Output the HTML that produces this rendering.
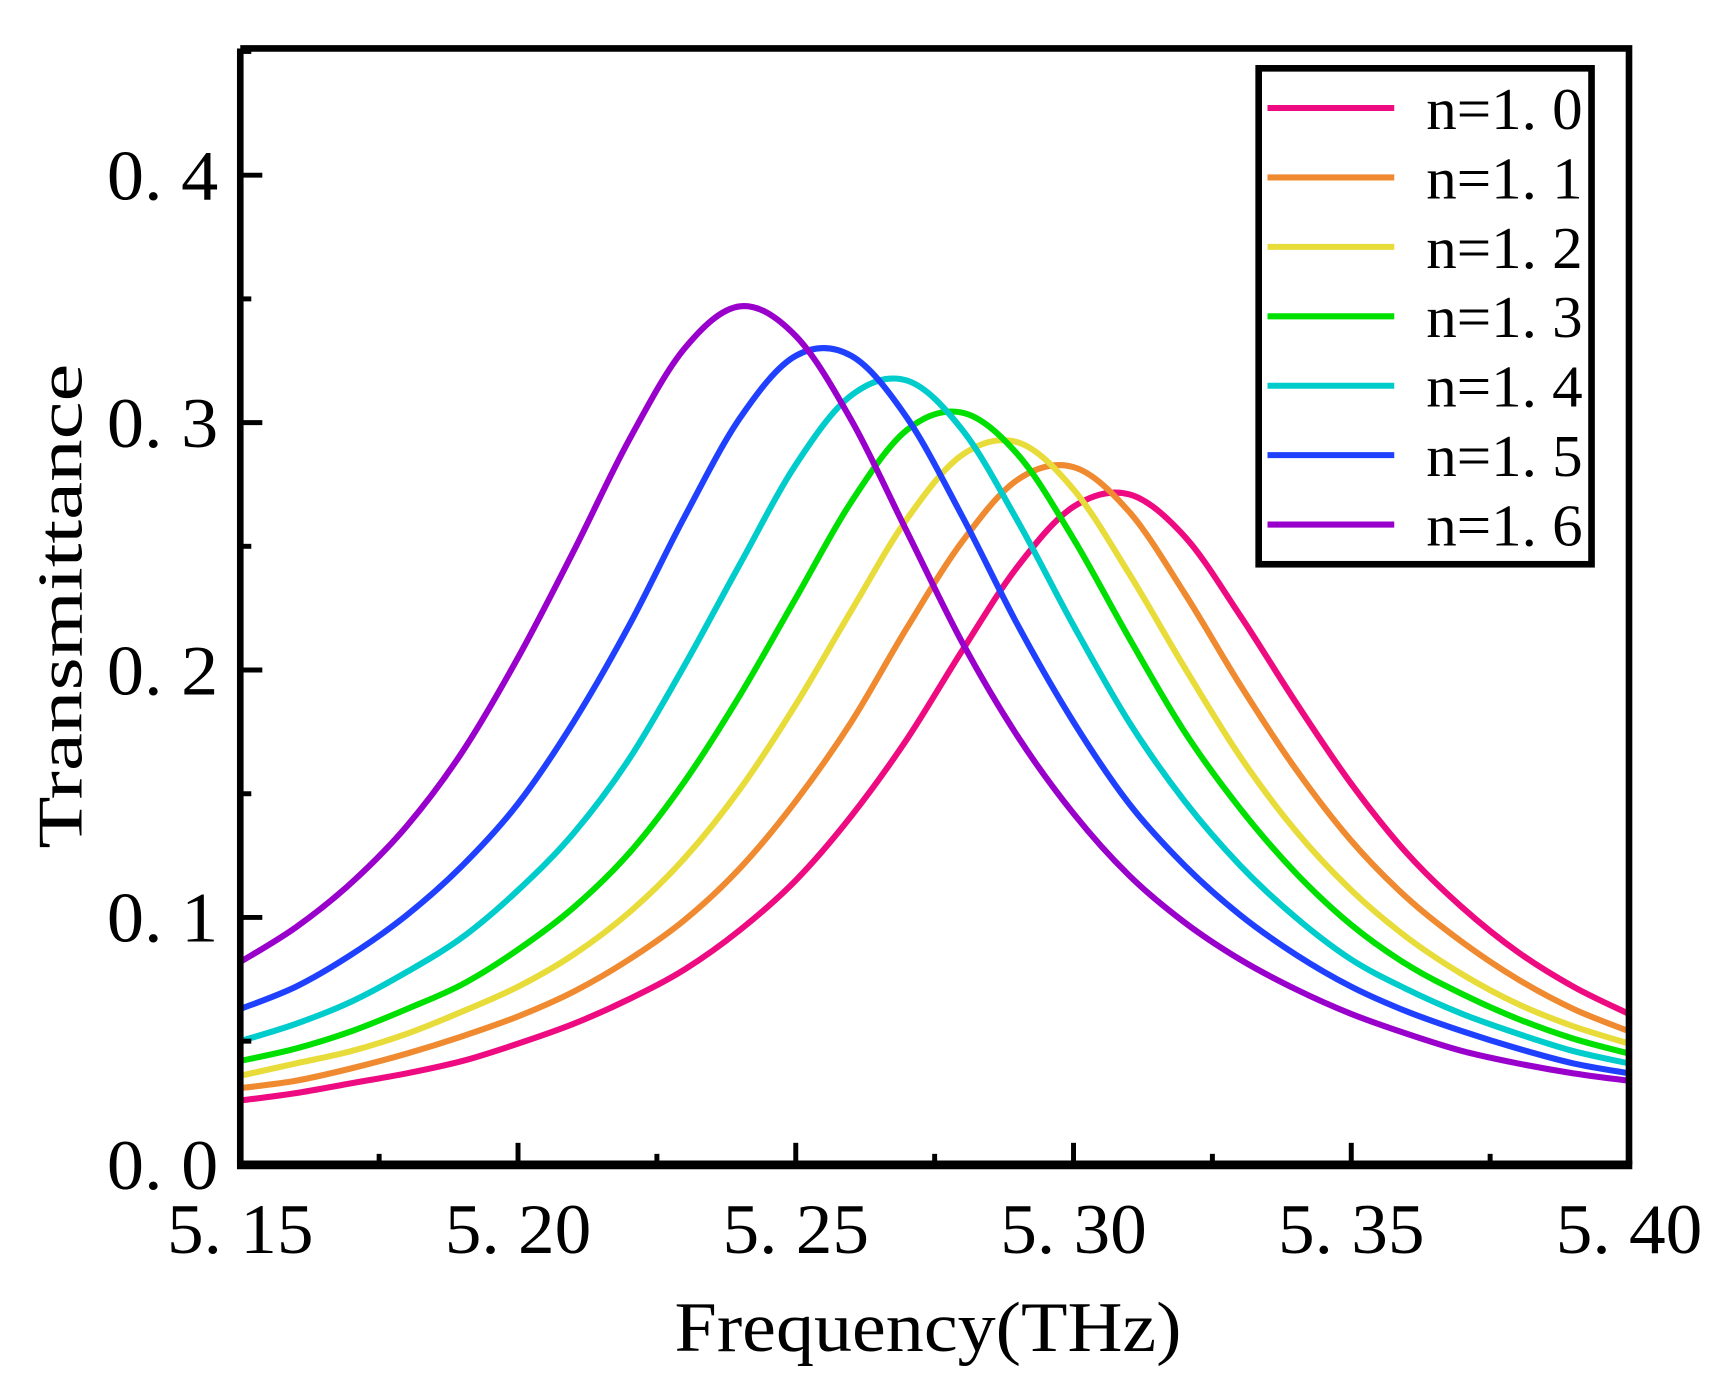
<!DOCTYPE html>
<html><head><meta charset="utf-8"><style>
html,body{margin:0;padding:0;background:#fff;width:1726px;height:1393px;overflow:hidden}
svg{display:block}
text{font-family:"Liberation Serif","Noto Serif CJK SC",serif;fill:#000}
</style></head><body>
<svg id="chart" width="1726" height="1393" viewBox="0 0 1566 1264" preserveAspectRatio="none" xmlns="http://www.w3.org/2000/svg">
<defs><clipPath id="clip"><rect x="218" y="44" width="1260" height="1013"/></clipPath></defs>
<g id="series" clip-path="url(#clip)"></g>
<g id="axes"></g>
<g id="legend"></g>
</svg>
<script>
const freqs=[5.15,5.16,5.17,5.18,5.19,5.20,5.21,5.22,5.23,5.24,5.25,5.26,5.27,5.28,5.29,5.30,5.31,5.32,5.33,5.34,5.35,5.36,5.37,5.38,5.39,5.40];
const seriesNames=["n=1.0","n=1.1","n=1.2","n=1.3","n=1.4","n=1.5","n=1.6"];
const n10=[.026,.029,.033,.037,.042,.049,.057,.067,.079,.095,.115,.141,.172,.208,.242,.266,.271,.254,.222,.187,.154,.126,.104,.086,.072,.061];
const n11=[.031,.034,.039,.045,.052,.060,.070,.083,.099,.120,.147,.179,.217,.252,.277,.282,.264,.231,.194,.160,.131,.108,.090,.075,.063,.054];
const n12=[.036,.041,.046,.053,.062,.072,.085,.102,.124,.152,.186,.224,.261,.287,.292,.273,.239,.201,.165,.135,.111,.092,.077,.065,.056,.049];
const n13=[.042,.047,.054,.063,.073,.087,.104,.126,.155,.190,.229,.268,.297,.304,.287,.253,.213,.175,.144,.118,.097,.081,.069,.059,.051,.045];
const n14=[.050,.057,.066,.078,.092,.111,.134,.164,.202,.243,.283,.311,.317,.297,.260,.218,.179,.147,.121,.100,.083,.071,.061,.053,.046,.041];
const n15=[.063,.072,.085,.101,.121,.146,.179,.218,.262,.302,.327,.327,.302,.262,.218,.179,.146,.121,.101,.085,.072,.062,.054,.047,.041,.037];
const n16=[.082,.096,.114,.137,.167,.205,.248,.293,.330,.347,.335,.301,.256,.211,.173,.142,.117,.098,.083,.071,.061,.053,.046,.041,.037,.034];
const xTicks=["5.15","5.20","5.25","5.30","5.35","5.40"];
const yTicks=["0.0","0.1","0.2","0.3","0.4"];

const allSeries=[n10,n11,n12,n13,n14,n15,n16];
const colors=["#ee0a80","#f08a30","#e8dc3a","#00e000","#00cccc","#2040ff","#9900cc"];
const X0=218,X1=1478,Y0=1057,Y1=44,XMIN=5.15,XMAX=5.40,YMIN=0,YMAX=0.4512;
const sx=v=>X0+(v-XMIN)/(XMAX-XMIN)*(X1-X0);
const sy=v=>Y0-(v-YMIN)/(YMAX-YMIN)*(Y0-Y1);
const NS="http://www.w3.org/2000/svg";
function mk(tag,attrs,parent){const e=document.createElementNS(NS,tag);for(const k in attrs)e.setAttribute(k,attrs[k]);parent.appendChild(e);return e;}

const gS=document.getElementById('series');
allSeries.forEach((arr,i)=>{
  const pts=arr.map((v,j)=>[sx(freqs[j]),sy(v)]);
  let d="M"+pts[0][0]+","+pts[0][1];
  for(let j=0;j<pts.length-1;j++){
    const p0=pts[Math.max(0,j-1)],p1=pts[j],p2=pts[j+1],p3=pts[Math.min(pts.length-1,j+2)];
    const c1=[p1[0]+(p2[0]-p0[0])/6,p1[1]+(p2[1]-p0[1])/6];
    const c2=[p2[0]-(p3[0]-p1[0])/6,p2[1]-(p3[1]-p1[1])/6];
    d+=" C"+c1[0]+","+c1[1]+" "+c2[0]+","+c2[1]+" "+p2[0]+","+p2[1];
  }
  const p=mk('path',{d:d,fill:"none",stroke:colors[i],"stroke-width":5.5,"stroke-linejoin":"round"},gS);
  
  
});

const gA=document.getElementById('axes');
const frame=mk('path',{d:`M${X0},${Y1} H${X1} V${Y0} M${X0},${Y1} V${Y0}`,fill:"none",stroke:"#000","stroke-width":6},gA);


const xAxis=mk('line',{x1:X0-3,x2:X1+3,y1:Y0,y2:Y0,stroke:"#000","stroke-width":8},gA);



xTicks.forEach((t,i)=>{
  const v=parseFloat(t),x=sx(v);
  if(i>0&&i<xTicks.length-1){const tk=mk('line',{x1:x,x2:x,y1:Y0,y2:Y0-20,stroke:"#000","stroke-width":4.5},gA);
    
    }
  const tx=mk('text',{x:x,y:1137,"text-anchor":"middle","font-size":64,textLength:133,lengthAdjust:"spacingAndGlyphs"},gA);
  tx.textContent=t.replace('.','. ');
  
  
  if(i<xTicks.length-1){const xm=sx(v+0.025);const mn=mk('line',{x1:xm,x2:xm,y1:Y0,y2:Y0-10,stroke:"#000","stroke-width":4.5},gA);
    
    }
});
yTicks.forEach((t,i)=>{
  const v=parseFloat(t),y=sy(v);
  if(i>0){const tk=mk('line',{x1:X0,x2:X0+20,y1:y,y2:y,stroke:"#000","stroke-width":4.5},gA);
    
    }
  const tx=mk('text',{x:198,y:y+22,"text-anchor":"end","font-size":64,textLength:101,lengthAdjust:"spacingAndGlyphs"},gA);
  tx.textContent=t.replace('.','. ');
  
  
  const ym=sy(v+0.05);const mn=mk('line',{x1:X0,x2:X0+10,y1:ym,y2:ym,stroke:"#000","stroke-width":4.5},gA);
  
  
});
const xt=mk('text',{x:842,y:1226,"text-anchor":"middle","font-size":64,textLength:460,lengthAdjust:"spacingAndGlyphs"},gA);
xt.textContent="Frequency(THz)";


const yt=mk('text',{x:0,y:0,"text-anchor":"middle","font-size":58,textLength:440,lengthAdjust:"spacingAndGlyphs",transform:"translate(74,550) rotate(-90)"},gA);
yt.textContent="Transmittance";



const gL=document.getElementById('legend');
const box=mk('rect',{x:1142,y:62,width:302,height:450,fill:"#fff",stroke:"#000","stroke-width":6},gL);


seriesNames.forEach((nm,i)=>{
  const y=98+i*63;
  const ln=mk('line',{x1:1150,x2:1265,y1:y,y2:y,stroke:colors[i],"stroke-width":5.5},gL);
  
  
  const tx=mk('text',{x:1294,y:y+19,"font-size":54,textLength:142,lengthAdjust:"spacingAndGlyphs"},gL);
  tx.textContent=nm.replace('.','. ');
  
  
});
</script>
</body></html>
